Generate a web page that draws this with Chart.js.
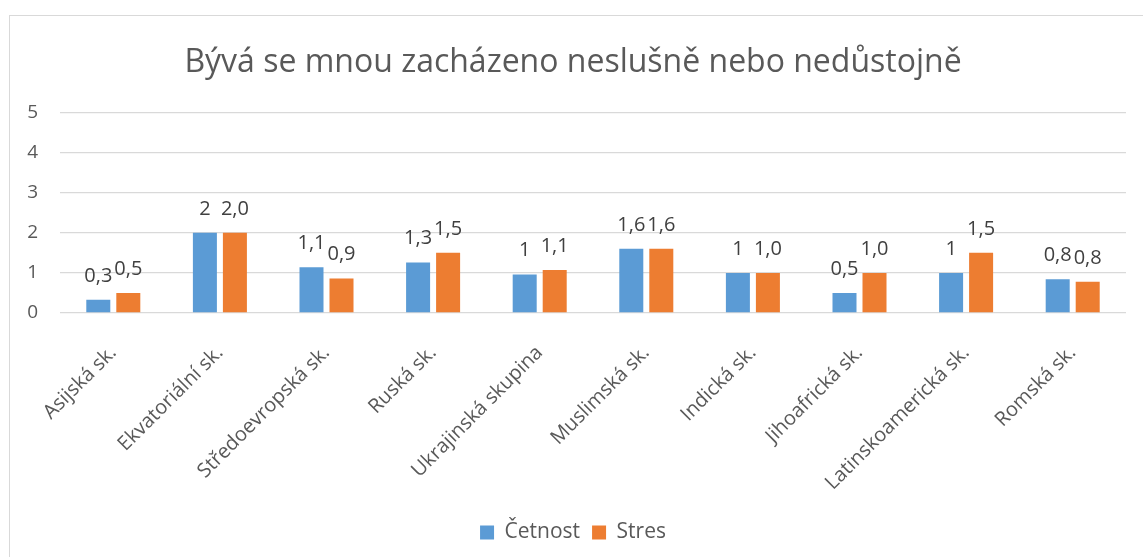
<!DOCTYPE html>
<html>
<head>
<meta charset="utf-8">
<script src="https://cdn.jsdelivr.net/npm/chart.js@4.4.1/dist/chart.umd.min.js"></script>
<style>
    html, body { margin: 0; padding: 0; background: #fff; overflow: hidden; }
    #ramecek {
        position: absolute; left: 9px; top: 15px;
        width: 1200px; height: 600px;
        border: 1px solid #d9d9d9; box-sizing: border-box;
    }
    #obal { position: absolute; left: 0; top: 0; width: 1143px; height: 557px; }
</style>
</head>
<body>
<div id="ramecek"></div>
<div id="obal"><canvas id="graf"></canvas></div>
<script>
// =====================================================
// DATA
// =====================================================

const kategorie = [
    'Asijská sk.', 'Ekvatoriální sk.', 'Středoevropská sk.', 'Ruská sk.',
    'Ukrajinská skupina', 'Muslimská sk.', 'Indická sk.', 'Jihoafrická sk.',
    'Latinskoamerická sk.', 'Romská sk.'
];
const cetnost = [0.33, 2.0, 1.14, 1.26, 0.96, 1.6, 1.0, 0.5, 1.0, 0.84];
const stres = [0.5, 2.0, 0.86, 1.5, 1.07, 1.6, 1.0, 1.0, 1.5, 0.78];
const osaY = [0, 1, 2, 3, 4, 5];

const PISMO = "'Open Sans', 'Noto Sans', sans-serif";
const SEDA_TEXT = '#595959';

// Četnost: zobrazení bez koncové nuly, Stres: vždy jedno desetinné místo
function formatCetnost(v) {
    return String(Number(v.toFixed(1))).replace('.', ',');
}
function formatStres(v) {
    return v.toFixed(1).replace('.', ',');
}

// =====================================================
// POPISKY DAT (vlastní plugin)
// =====================================================

const popiskyPlugin = {
    id: 'popisky',
    afterDatasetsDraw(chart) {
        const ctx = chart.ctx;
        ctx.save();
        ctx.font = '20px ' + PISMO;
        ctx.fillStyle = '#404040';
        ctx.textAlign = 'center';
        ctx.textBaseline = 'alphabetic';
        chart.data.datasets.forEach((ds, i) => {
            const meta = chart.getDatasetMeta(i);
            meta.data.forEach((bar, j) => {
                const text = ds.format(ds.data[j]);
                ctx.fillText(text, bar.x, bar.y - 18);
            });
        });
        ctx.restore();
    }
};

// =====================================================
// GRAF
// =====================================================

new Chart(document.getElementById('graf'), {
    type: 'bar',
    data: {
        labels: kategorie,
        datasets: [
            {
                label: 'Četnost',
                data: cetnost,
                format: formatCetnost,
                backgroundColor: '#5B9BD5',
                categoryPercentage: 0.563,
                barPercentage: 0.8
            },
            {
                label: 'Stres',
                data: stres,
                format: formatStres,
                backgroundColor: '#ED7D31',
                categoryPercentage: 0.563,
                barPercentage: 0.8
            }
        ]
    },
    options: {
        responsive: true,
        maintainAspectRatio: false,
        animation: false,
        layout: {
            padding: { left: 20, right: 17, top: 15, bottom: 4 }
        },
        plugins: {
            title: {
                display: true,
                text: 'Bývá se mnou zacházeno neslušně nebo nedůstojně',
                color: SEDA_TEXT,
                font: { family: PISMO, size: 32, weight: 'normal' },
                padding: { top: 29, bottom: 30 }
            },
            legend: {
                position: 'bottom',
                labels: {
                    color: SEDA_TEXT,
                    font: { family: PISMO, size: 21 },
                    boxWidth: 14,
                    boxHeight: 14,
                    padding: 12
                }
            },
            tooltip: { enabled: false }
        },
        scales: {
            x: {
                grid: { display: false },
                border: { display: false },
                ticks: {
                    color: SEDA_TEXT,
                    font: { family: PISMO, size: 20 },
                    maxRotation: 45,
                    minRotation: 45,
                    padding: 20
                },
                afterFit(scale) { scale.height = 197; }
            },
            y: {
                min: 0,
                max: 5,
                afterBuildTicks(scale) {
                    scale.ticks = osaY.map(v => ({ value: v }));
                },
                grid: { color: '#d9d9d9', lineWidth: 1.3, drawTicks: false },
                border: { display: false },
                ticks: {
                    color: SEDA_TEXT,
                    font: { family: PISMO, size: 19 },
                    padding: 22
                },
                afterFit(scale) { scale.width = 40; }
            }
        }
    },
    plugins: [popiskyPlugin]
});
</script>
</body>
</html>
